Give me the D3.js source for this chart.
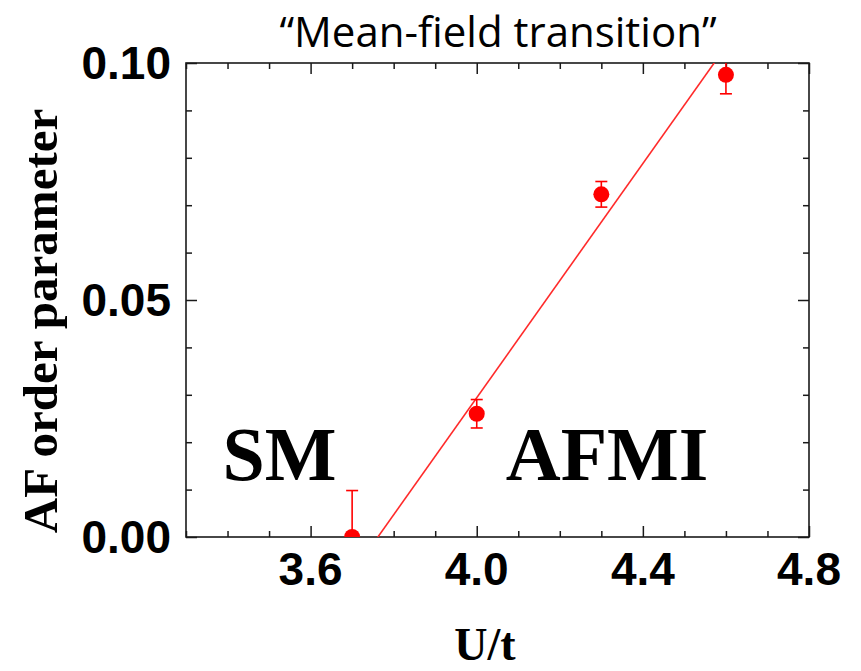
<!DOCTYPE html>
<html>
<head>
<meta charset="utf-8">
<script src="https://cdn.jsdelivr.net/npm/d3@7"></script>
<style>
  html, body { margin: 0; padding: 0; background: #fff; }
  svg { display: block; }
</style>
</head>
<body>
<svg id="chart" width="861" height="671"></svg>
<script>
// Measured AF order parameter vs. interaction strength U/t
const uValues   = [3.7, 4.0, 4.3, 4.6];
const afOrder   = [0.0, 0.026, 0.0723, 0.0975];
const afError   = [0.0098, 0.003, 0.0027, 0.004];

// Linear mean-field fit: m = slope * (U - Uc)
const fitUc    = 3.762;
const fitSlope = 0.1235;

const xTicks = [3.6, 4.0, 4.4, 4.8];
const yTicks = [0.00, 0.05, 0.10];
const xMinorStep = 0.1;
const yMinorStep = 0.01;

const titleText  = "\u201CMean-field transition\u201D";
const xLabelText = "U/t";
const yLabelText = "AF order parameter";
const phaseLabels = [
  { text: "SM",   u: 3.388 },
  { text: "AFMI", u: 4.07 }
];

const svg = d3.select("#chart");
const margin = { left: 186, right: 861 - 809, top: 63, bottom: 671 - 537 };
const W = 861, H = 671;
const red = "#ff0000";

const x = d3.scaleLinear().domain([3.3, 4.8]).range([margin.left, W - margin.right]);
const y = d3.scaleLinear().domain([0, 0.10]).range([H - margin.bottom, margin.top]);

svg.append("defs").append("clipPath").attr("id", "plot-clip")
  .append("rect")
  .attr("x", x(3.3)).attr("y", y(0.10))
  .attr("width", x(4.8) - x(3.3)).attr("height", y(0) - y(0.10));

const xMinor = d3.range(3.3, 4.8 + 1e-9, xMinorStep).map(v => +v.toFixed(2));
const yMinor = d3.range(0, 0.10 + 1e-9, yMinorStep).map(v => +v.toFixed(3));

const isMajorX = v => xTicks.some(t => Math.abs(t - v) < 1e-6);
const isMajorY = v => yTicks.some(t => Math.abs(t - v) < 1e-6);

const majorLen = 11, minorLen = 6;
const axisColor = "#1a1a1a";

// Ticks pointing into the frame on all four sides
function drawAxis(axisGen, transform, values, isMajor) {
  const g = svg.append("g").attr("transform", transform)
    .call(axisGen.tickValues(values).tickFormat("").tickSizeOuter(0));
  g.select(".domain").remove();
  g.selectAll(".tick line")
    .attr("stroke", axisColor).attr("stroke-width", 1.5)
    .each(function(d) {
      const len = isMajor(d) ? majorLen : minorLen;
      const line = d3.select(this);
      if (line.attr("x2") !== null && +line.attr("x2") !== 0) line.attr("x2", Math.sign(+line.attr("x2")) * len);
      if (line.attr("y2") !== null && +line.attr("y2") !== 0) line.attr("y2", Math.sign(+line.attr("y2")) * len);
    });
  return g;
}

drawAxis(d3.axisBottom(x).tickSize(-1), `translate(0,${y(0)})`, xMinor, isMajorX);
drawAxis(d3.axisTop(x).tickSize(-1), `translate(0,${y(0.10)})`, xMinor, isMajorX);
drawAxis(d3.axisLeft(y).tickSize(-1), `translate(${x(3.3)},0)`, yMinor, isMajorY);
drawAxis(d3.axisRight(y).tickSize(-1), `translate(${x(4.8)},0)`, yMinor, isMajorY);

// Frame
svg.append("rect")
  .attr("x", x(3.3)).attr("y", y(0.10))
  .attr("width", x(4.8) - x(3.3)).attr("height", y(0) - y(0.10))
  .attr("fill", "none").attr("stroke", axisColor).attr("stroke-width", 1.6);

// Tick labels
const tickFont = "'Liberation Sans', Arial, sans-serif";
svg.append("g").selectAll("text").data(xTicks).join("text")
  .attr("x", d => x(d)).attr("y", y(0) + 48)
  .attr("text-anchor", "middle")
  .attr("font-family", tickFont).attr("font-weight", "bold").attr("font-size", 46)
  .attr("fill", "#000")
  .text(d => d3.format(".1f")(d));

svg.append("g").selectAll("text").data(yTicks).join("text")
  .attr("x", x(3.3) - 15).attr("y", d => y(d))
  .attr("dy", "0.35em")
  .attr("text-anchor", "end")
  .attr("font-family", tickFont).attr("font-weight", "bold").attr("font-size", 46)
  .attr("fill", "#000")
  .text(d => d3.format(".2f")(d));

// Axis titles
const serif = "'Liberation Serif', 'Times New Roman', serif";
svg.append("text")
  .attr("x", 485).attr("y", 660)
  .attr("text-anchor", "middle")
  .attr("font-family", serif).attr("font-weight", "bold").attr("font-size", 46)
  .text(xLabelText);

svg.append("text")
  .attr("transform", "translate(57,321) rotate(-90)")
  .attr("text-anchor", "middle")
  .attr("font-family", serif).attr("font-weight", "bold").attr("font-size", 49)
  .text(yLabelText);

// Chart title
svg.append("text")
  .attr("x", 498).attr("y", 47)
  .attr("text-anchor", "middle")
  .attr("font-family", "'Open Sans', 'Noto Sans', sans-serif").attr("font-size", 42)
  .attr("fill", "#000")
  .text(titleText);

// Phase labels
svg.append("g").selectAll("text").data(phaseLabels).join("text")
  .attr("x", d => x(d.u)).attr("y", 480)
  .attr("font-family", serif).attr("font-weight", "bold").attr("font-size", 76)
  .attr("fill", "#000")
  .text(d => d.text);

// Data layer, clipped to the frame
const plot = svg.append("g").attr("clip-path", "url(#plot-clip)");

// Mean-field fit line, drawn across the whole frame and clipped
const fitLine = d3.line().x(d => x(d)).y(d => y(fitSlope * (d - fitUc)));
plot.append("path")
  .datum(x.domain())
  .attr("d", fitLine)
  .attr("fill", "none").attr("stroke", "#ff2a2a").attr("stroke-width", 1.6);

const pts = uValues.map((u, i) => ({ u, m: afOrder[i], e: afError[i] }));

// Error bars
const eb = plot.append("g").selectAll("g").data(pts).join("g")
  .attr("stroke", red).attr("stroke-width", 1.6);
eb.append("line")
  .attr("x1", d => x(d.u)).attr("x2", d => x(d.u))
  .attr("y1", d => y(d.m - d.e)).attr("y2", d => y(d.m + d.e));
eb.append("line")
  .attr("x1", d => x(d.u) - 6).attr("x2", d => x(d.u) + 6)
  .attr("y1", d => y(d.m + d.e)).attr("y2", d => y(d.m + d.e));
eb.append("line")
  .attr("x1", d => x(d.u) - 6).attr("x2", d => x(d.u) + 6)
  .attr("y1", d => y(d.m - d.e)).attr("y2", d => y(d.m - d.e));

// Markers
plot.append("g").selectAll("circle").data(pts).join("circle")
  .attr("cx", d => x(d.u)).attr("cy", d => y(d.m))
  .attr("r", 8).attr("fill", red);
</script>
</body>
</html>
